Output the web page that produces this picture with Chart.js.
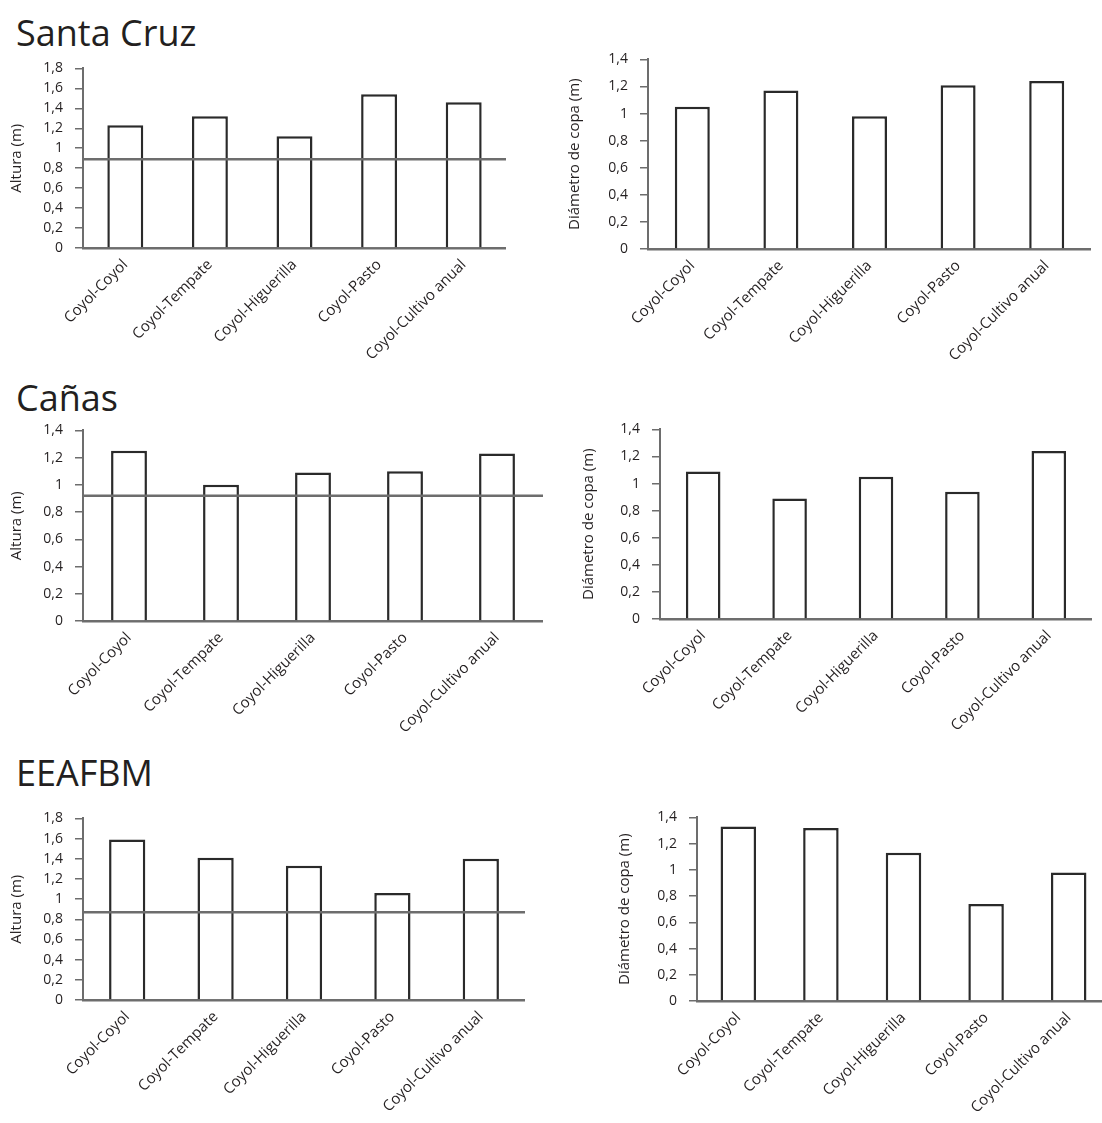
<!DOCTYPE html>
<html><head><meta charset="utf-8">
<script src="https://cdn.jsdelivr.net/npm/chart.js@4.4.1/dist/chart.umd.min.js"></script>
<style>
html,body{margin:0;padding:0;background:#fff;overflow:hidden;width:1102px;height:1123px;}
.t{position:absolute;left:16px;font-family:"Open Sans",sans-serif;font-size:36px;line-height:36px;color:#231f20;white-space:nowrap;}
canvas{position:absolute;}
</style></head><body>
<div class="t" style="top:15px">Santa Cruz</div>
<div class="t" style="top:380px">Cañas</div>
<div class="t" style="top:755px">EEAFBM</div>
<canvas id="c1" style="left:0px;top:48px" width="506" height="325"></canvas>
<canvas id="c2" style="left:560px;top:39px" width="531" height="335"></canvas>
<canvas id="c3" style="left:0px;top:410px" width="543" height="336"></canvas>
<canvas id="c4" style="left:560px;top:409px" width="532" height="340"></canvas>
<canvas id="c5" style="left:0px;top:798px" width="525" height="327"></canvas>
<canvas id="c6" style="left:590px;top:797px" width="520" height="329"></canvas>
<script>
// ---- data ----
const categories = ['Coyol-Coyol', 'Coyol-Tempate', 'Coyol-Higuerilla', 'Coyol-Pasto', 'Coyol-Cultivo anual'];
const santaCruzAltura = [1.23, 1.32, 1.12, 1.54, 1.46];
const santaCruzDiametro = [1.05, 1.17, 0.98, 1.21, 1.24];
const canasAltura = [1.25, 1.00, 1.09, 1.10, 1.23];
const canasDiametro = [1.09, 0.89, 1.05, 0.94, 1.24];
const eeafbmAltura = [1.59, 1.41, 1.33, 1.06, 1.40];
const eeafbmDiametro = [1.33, 1.32, 1.13, 0.74, 0.98];
const referenceLine = [0.89, 0.92, 0.87];   // horizontal line on Altura charts
const alturaMax = [1.8, 1.4, 1.8];
const diametroMax = [1.4, 1.4, 1.4];
const yTitleAltura = 'Altura (m)';
const yTitleDiametro = 'Diámetro de copa (m)';

Chart.defaults.font.family = '"Open Sans", sans-serif';
Chart.defaults.font.size = 14;
Chart.defaults.color = '#231f20';

const AXIS = '#6d6d6d';

const refLinePlugin = {
  id: 'refLine',
  afterDatasetsDraw(chart, args, opts) {
    if (opts.value == null) return;
    const ctx = chart.ctx;
    const y = chart.scales.y.getPixelForValue(opts.value);
    const { left, right } = chart.chartArea;
    ctx.save();
    ctx.strokeStyle = AXIS;
    ctx.lineWidth = 2.5;
    ctx.beginPath();
    ctx.moveTo(left, y);
    ctx.lineTo(right, y);
    ctx.stroke();
    ctx.restore();
  }
};

function makeChart(id, values, cfg) {
  const plugins = cfg.ref != null ? [refLinePlugin] : [];
  new Chart(document.getElementById(id), {
    type: 'bar',
    data: {
      labels: categories,
      datasets: [{
        data: values,
        backgroundColor: '#ffffff',
        borderColor: '#2a2a2a',
        borderWidth: 2.5,
        barPercentage: cfg.barPct,
        categoryPercentage: 1
      }]
    },
    plugins: plugins,
    options: {
      responsive: false,
      animation: false,
      layout: { padding: { top: 1, left: 0, right: 0, bottom: 0 } },
      plugins: {
        legend: { display: false },
        tooltip: { enabled: false },
        refLine: { value: cfg.ref }
      },
      scales: {
        x: {
          z: 1,
          offset: true,
          grid: { display: false, drawTicks: false },
          border: { display: true, color: AXIS, width: 2.5 },
          ticks: { minRotation: 45, maxRotation: 45, padding: 8, autoSkip: false, color: '#231f20', font: { size: 15 } },
          afterFit(s) { s.height = cfg.xH; }
        },
        y: {
          z: 1,
          min: 0,
          max: cfg.max,
          grid: { drawOnChartArea: false, drawTicks: true, tickLength: 8, color: AXIS, lineWidth: 1.5 },
          border: { display: true, color: AXIS, width: 2 },
          ticks: {
            stepSize: 0.2,
            autoSkip: false,
            padding: 12,
            color: '#231f20',
            font: { size: 14 },
            callback: v => String(Math.round(v * 10) / 10).replace('.', ',')
          },
          title: { display: true, text: cfg.title, color: '#231f20', font: { size: 15 }, padding: { top: cfg.tPad, bottom: 0 } },
          afterFit(s) { s.width = cfg.yW; }
        }
      }
    }
  });
}

makeChart('c1', santaCruzAltura,   { max: alturaMax[0],   ref: referenceLine[0], title: yTitleAltura,   yW: 83,  xH: 125, barPct: 0.425, tPad: 8 });
makeChart('c2', santaCruzDiametro, { max: diametroMax[0], ref: null,             title: yTitleDiametro, yW: 88,  xH: 125, barPct: 0.395, tPad: 6 });
makeChart('c3', canasAltura,       { max: alturaMax[1],   ref: referenceLine[1], title: yTitleAltura,   yW: 83,  xH: 125, barPct: 0.39,  tPad: 8 });
makeChart('c4', canasDiametro,     { max: diametroMax[1], ref: null,             title: yTitleDiametro, yW: 100, xH: 130, barPct: 0.40,  tPad: 20 });
makeChart('c5', eeafbmAltura,      { max: alturaMax[2],   ref: referenceLine[2], title: yTitleAltura,   yW: 83,  xH: 125, barPct: 0.41,  tPad: 8 });
makeChart('c6', eeafbmDiametro,    { max: diametroMax[2], ref: null,             title: yTitleDiametro, yW: 107, xH: 125, barPct: 0.43,  tPad: 26 });
</script>
</body></html>
